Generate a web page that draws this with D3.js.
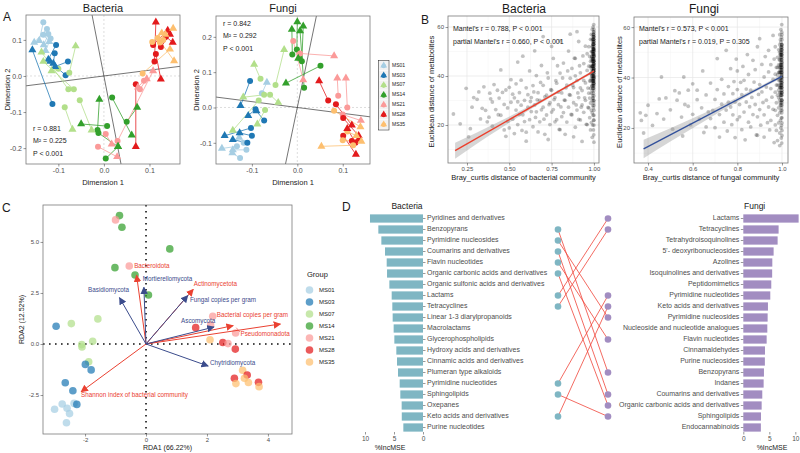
<!DOCTYPE html>
<html><head><meta charset="utf-8">
<script src="https://cdn.jsdelivr.net/npm/d3@7"></script>
<style>body{margin:0;background:#fff}svg{display:block}</style>
</head><body><svg id="chart" width="800" height="453"></svg>
<script>
// ---------------- DATA ----------------
const groups = ["MS01","MS03","MS07","MS14","MS21","MS28","MS35"];

// Procrustes: [group, circle x, circle y, triangle x, triangle y]
const procBacteria = [
["MS01",-0.133,0.149,-0.142,0.098],["MS01",-0.125,0.130,-0.153,0.093],["MS01",-0.122,0.116,-0.132,0.086],
["MS01",-0.133,0.114,-0.120,0.095],["MS01",-0.117,0.104,-0.128,0.070],
["MS03",-0.113,-0.078,-0.157,0.072],["MS03",-0.105,0.086,-0.122,0.046],["MS03",-0.108,0.063,-0.111,0.035],
["MS03",-0.079,0.040,-0.107,0.026],["MS03",-0.084,0.002,-0.118,0.040],
["MS07",-0.076,0.009,-0.062,0.083],["MS07",-0.078,-0.037,-0.137,0.066],["MS07",-0.066,-0.037,-0.133,0.040],
["MS07",-0.053,-0.067,-0.027,-0.150],["MS07",-0.086,-0.087,-0.069,-0.148],["MS07",-0.100,0.020,-0.115,0.014],
["MS14",0.018,-0.060,0.061,-0.164],["MS14",0.007,-0.139,-0.050,-0.133],["MS14",-0.014,-0.150,-0.010,-0.065],
["MS14",-0.012,-0.158,0.031,-0.196],["MS14",0.004,-0.229,0.031,-0.196],["MS14",0.050,-0.127,0.073,-0.087],
["MS21",-0.013,-0.196,0.029,-0.224],["MS21",0.004,-0.161,0.017,-0.189],["MS21",0.088,-0.013,0.075,-0.031],
["MS21",0.079,-0.037,0.094,-0.008],["MS21",0.030,-0.180,0.108,0.014],
["MS28",0.070,-0.023,0.070,-0.196],["MS28",0.111,0.040,0.114,0.149],["MS28",0.114,0.061,0.125,-0.009],
["MS28",0.108,0.086,0.140,0.126],["MS28",0.136,0.109,0.151,0.093],["MS28",0.125,0.080,0.145,0.115],
["MS35",0.106,0.094,0.127,0.119],["MS35",0.123,0.093,0.152,0.132],["MS35",0.085,0.007,0.145,0.074],
["MS35",0.118,0.105,0.154,0.042],["MS35",0.130,0.100,0.135,0.115]
];
const procFungi = [
["MS01",-0.126,-0.143,-0.143,-0.129],["MS01",-0.133,-0.110,-0.166,-0.116],["MS01",-0.118,-0.100,-0.128,-0.085],
["MS01",-0.112,-0.120,-0.142,-0.120],["MS01",-0.078,0.040,-0.067,0.071],
["MS03",-0.104,0.075,-0.125,0.005],["MS03",-0.092,-0.005,-0.108,-0.023],["MS03",-0.073,-0.037,-0.090,-0.010],
["MS03",-0.102,-0.058,-0.160,-0.080],["MS03",-0.100,-0.080,-0.127,-0.072],["MS03",-0.110,-0.100,-0.142,-0.091],
["MS07",-0.081,0.081,-0.095,0.122],["MS07",-0.048,0.064,-0.029,0.164],["MS07",-0.073,0.036,-0.119,0.029],
["MS07",-0.060,0.036,-0.042,0.014],["MS07",-0.071,-0.007,-0.088,-0.047],["MS07",-0.085,0.020,-0.142,-0.065],
["MS14",-0.001,0.164,0.000,0.242],["MS14",-0.011,0.150,-0.012,0.221],["MS14",0.010,0.131,0.013,0.230],
["MS14",0.015,0.056,0.006,0.217],["MS14",0.051,0.118,-0.025,0.069],["MS14",0.005,0.140,0.002,0.139],
["MS21",-0.009,0.188,0.013,0.078],["MS21",0.006,0.153,0.081,0.146],["MS21",0.090,0.033,0.088,0.083],
["MS21",0.110,0.000,0.107,0.083],["MS21",0.100,-0.020,0.140,-0.037],
["MS28",0.068,0.020,0.048,0.075],["MS28",0.085,0.009,0.120,-0.050],["MS28",0.101,-0.030,0.135,-0.080],
["MS28",0.101,-0.080,0.129,-0.133],["MS28",0.120,-0.095,0.135,-0.090],["MS28",0.128,-0.100,0.110,-0.060],
["MS35",0.123,-0.107,0.053,-0.110],["MS35",0.100,-0.093,0.141,-0.096],["MS35",0.081,-0.009,0.139,-0.055],
["MS35",0.110,-0.068,0.130,-0.080]
];
const procSlopesBacteria = [0.16, -6.5];
const procSlopesFungi = [-0.165, 6.16];
const procStatsBacteria = ["r = 0.881", "M\u00B2 = 0.225", "P < 0.001"];
const procStatsFungi = ["r = 0.842", "M\u00B2 = 0.292", "P < 0.001"];
const procTicksBacX = [-0.1, 0, 0.1], procTicksBacY = [0.1, 0, -0.1, -0.2];
const procTicksFunX = [-0.1, 0, 0.1], procTicksFunY = [0.2, 0.1, 0, -0.1];

// Mantel scatter points [bray_curtis, euclidean]
const mantelBacteria = [
[0.17,24.5],[0.21,20.5],[0.245,35],[0.26,15.2],[0.28,27.3],[0.29,31.2],[0.31,30.5],[0.33,22.5],[0.34,26.8],[0.35,35.6],[0.27,18.5],[0.32,33.5],
[0.36,26],[0.37,21.3],[0.38,23.2],[0.385,33],[0.39,30.7],[0.40,29.4],[0.40,19.5],[0.41,36.5],[0.42,26.3],[0.43,34.2],[0.435,24.2],[0.44,31],[0.45,24],[0.45,42.5],[0.46,33.3],[0.47,18],[0.47,28.4],[0.48,15.4],[0.48,34.3],[0.49,27],[0.49,21.5],[0.50,35.4],[0.50,18.8],[0.51,29.3],[0.51,38.5],[0.52,22.4],[0.52,32.6],[0.53,31.1],[0.53,16.5],[0.54,26.1],[0.54,36.8],[0.55,45.7],[0.55,20.2],[0.55,29.5],
[0.56,33.2],[0.56,24.3],[0.57,28.1],[0.57,38.3],[0.575,17.8],[0.58,24.2],[0.58,48.1],[0.59,30.1],[0.59,21.4],[0.60,17.1],[0.60,35.2],[0.60,13.4],[0.61,27.3],[0.61,32.4],[0.62,42.1],[0.62,22.2],[0.625,29.6],[0.63,31.2],[0.63,25.5],[0.64,36.1],[0.64,19.3],[0.645,33.5],[0.65,28.2],[0.65,50.3],[0.655,23.1],[0.66,25.4],[0.66,40.2],[0.665,30.3],[0.67,33.2],[0.67,17.2],[0.68,21.3],[0.68,30.1],[0.685,37.4],[0.69,44.3],[0.69,26.2],[0.70,27.3],[0.70,36.2],[0.70,56.1],[0.705,22.4],[0.71,16.2],[0.71,31.5],[0.72,32.2],[0.72,24.1],[0.725,41.3],[0.73,39.2],[0.73,14.1],[0.735,28.3],[0.74,29.1],[0.74,20.2],[0.745,34.4],[0.75,34.2],[0.75,52.1],[0.75,25.3],
[0.76,26.3],[0.76,47.2],[0.765,30.4],[0.77,31.2],[0.77,21.3],[0.775,38.1],[0.78,22.2],[0.78,37.1],[0.785,44.2],[0.79,28.3],[0.79,33.4],[0.795,18.2],[0.80,41.2],[0.80,18.1],[0.80,54.3],[0.805,27.4],[0.81,33.1],[0.81,23.4],[0.815,39.2],[0.82,25.1],[0.82,45.3],[0.825,30.2],[0.83,30.1],[0.83,16.2],[0.835,35.2],[0.84,36.3],[0.84,21.2],[0.845,42.1],[0.85,27.3],[0.85,50.2],[0.855,32.4],[0.86,39.1],[0.86,32.2],[0.86,57.1],[0.865,24.3],[0.87,24.2],[0.87,43.1],[0.875,36.2],[0.88,29.1],[0.88,35.3],[0.88,15.2],[0.885,47.3],[0.89,19.1],[0.89,47.2],[0.89,40.1],[0.895,28.2],[0.90,26.1],[0.90,38.2],[0.90,58.1],[0.905,33.1],[0.91,31.2],[0.91,54.1],[0.91,22.3],[0.915,44.2],[0.92,22.1],[0.92,41.3],[0.92,35.2],[0.925,27.3],[0.93,34.1],[0.93,28.2],[0.93,13.3],[0.935,48.2],[0.94,45.1],[0.94,25.2],[0.94,38.2],[0.945,31.1],[0.95,37.2],[0.95,30.1],[0.95,52.2],[0.955,20.3],[0.96,49.1],[0.96,20.2],[0.96,42.3],[0.965,35.1],[0.965,27.2],
[0.97,33],[0.97,27],[0.97,52],[0.97,44],[0.975,38],[0.975,23],[0.975,48],[0.975,31],[0.98,41],[0.98,35],[0.98,55],[0.98,18],[0.98,29],[0.98,46],[0.985,39],[0.985,43],[0.985,50],[0.985,26],[0.985,33],[0.985,57],[0.985,21],[0.99,36],[0.99,40],[0.99,44],[0.99,48],[0.99,52],[0.99,30],[0.99,25],[0.99,15],[0.99,55],[0.99,59],[0.99,34],[0.993,37],[0.993,42],[0.993,46],[0.993,50],[0.993,54],[0.993,28],[0.993,32],[0.993,20],[0.995,39],[0.995,43],[0.995,47],[0.995,51],[0.995,56],[0.995,35],[0.995,31],[0.995,24],[0.995,60],[0.997,36],[0.997,40],[0.997,44],[0.997,49],[0.997,53],[0.997,57],[0.997,33],[0.997,27],[0.997,18],[0.998,38],[0.998,42],[0.998,45],[0.998,48],[0.998,51],[0.998,55],[0.998,58],[0.998,30],[0.998,22],[0.999,37],[0.999,41],[0.999,43],[0.999,46],[0.999,50],[0.999,53],[0.999,56],[0.999,61],[0.999,34],[0.999,29],[0.999,16],[1.0,36],[1.0,39],[1.0,41],[1.0,44],[1.0,47],[1.0,49],[1.0,52],[1.0,54],[1.0,57],[1.0,59],[1.0,32],[1.0,26],[1.0,20],[1.0,13],[1.0,38],[1.0,43],[1.0,46],[1.0,50],[1.0,55],[1.0,42],[1.0,45],[1.0,48],[1.0,51],[1.0,40],[1.0,35],[0.996,45],[0.996,49],[0.996,53],[0.994,41],[0.994,38],[0.992,47],[0.992,44],
[0.996,36],[0.996,38],[0.996,40],[0.996,42],[0.996,47],[0.996,51],[0.996,55],[0.996,57],[0.998,37],[0.998,40],[0.998,43],[0.998,46],[0.998,49],[0.998,52],[0.998,54],[0.998,56],[1.0,37],[1.0,39.5],[1.0,42.5],[1.0,44.5],[1.0,46.5],[1.0,48.5],[1.0,50.5],[1.0,53],[1.0,56],[1.0,58],[1.0,30],[1.0,28],[1.0,24],[1.0,22],[0.994,44],[0.994,47],[0.994,50],[0.994,53],[0.994,35],[0.994,31],[0.992,39],[0.992,41],[0.992,49],[0.992,52],[0.99,38],[0.99,42],[0.99,46],[0.99,50],[0.988,40],[0.988,44],[0.988,36],[0.988,48],[0.985,41],[0.985,47],[0.98,38],[0.98,44],[0.997,38],[0.997,42],[0.997,46],[0.997,51],[0.997,55],[0.999,39],[0.999,45],[0.999,48],[0.999,51],[0.999,54]
];
const mantelFungi = [
[0.365,26],[0.37,23],[0.39,25],[0.40,29],[0.38,18],[0.42,21],[0.44,25.7],[0.45,31.5],[0.46,40.2],[0.48,31.9],[0.47,23.5],[0.50,27.2],[0.51,19.5],[0.52,34.8],[0.53,31],[0.54,33.9],[0.55,24.3],[0.56,40.2],[0.565,29.3],[0.58,35],[0.58,28.6],[0.59,21.2],[0.60,25.4],[0.60,37.5],[0.555,16.8],
[0.62,31.2],[0.62,35],[0.63,23.5],[0.64,28],[0.645,42.6],[0.65,18.2],[0.66,20.4],[0.66,33.1],[0.67,26.4],[0.68,23.7],[0.68,37.8],[0.69,27],[0.70,31.3],[0.70,20.1],[0.71,47.5],[0.71,35.2],[0.72,25.3],[0.72,16.4],[0.73,29.4],[0.73,39.3],[0.74,22.3],[0.74,33.5],[0.75,50.8],[0.75,27.1],[0.755,18.8],[0.76,36.4],[0.76,30.2],[0.77,28.3],[0.77,43.5],[0.775,21.3],[0.78,33.6],[0.78,25.2],[0.785,38.4],[0.79,16.2],[0.79,30.3],[0.795,47.3],[0.80,42.6],[0.80,23.3],[0.80,35.2],
[0.81,24.4],[0.81,29.3],[0.815,38.1],[0.82,33.2],[0.82,19.3],[0.825,44.4],[0.83,38.9],[0.83,26.3],[0.835,15.3],[0.84,30.3],[0.84,35.4],[0.845,49.1],[0.85,22.3],[0.85,41.2],[0.855,28.4],[0.86,35],[0.86,20.4],[0.865,32.1],[0.87,46.8],[0.87,25.3],[0.875,38.2],[0.88,29.3],[0.88,43.1],[0.885,17.2],[0.89,17.1],[0.89,24.4],[0.89,52.2],[0.895,33.3],[0.90,55.4],[0.90,37.2],[0.90,27.3],[0.905,21.1],[0.91,34.3],[0.91,45.2],[0.915,30.1],[0.92,40.2],[0.92,16.4],[0.92,25.2],[0.925,48.3],[0.93,31],[0.93,36.2],[0.935,22.1],[0.94,50.8],[0.94,42.2],[0.94,28.3],[0.945,19.2],[0.95,23],[0.95,35.6],[0.95,45.1],[0.955,32.2],[0.96,56.7],[0.96,39.3],[0.96,27.4],[0.965,14.2],[0.965,47.3],[0.97,27],[0.97,34.2],[0.97,41.3],[0.97,52.2],[0.97,21.2],
[0.975,30],[0.975,44],[0.975,19],[0.975,37],[0.98,33],[0.98,48],[0.98,25],[0.98,41],[0.98,15],[0.985,35],[0.985,39],[0.985,51],[0.985,28],[0.985,22],[0.985,45],[0.99,31],[0.99,36],[0.99,42],[0.99,47],[0.99,53],[0.99,57],[0.99,26],[0.99,18],[0.99,13],[0.993,34],[0.993,38],[0.993,44],[0.993,49],[0.993,29],[0.993,23],[0.993,55],[0.995,32],[0.995,37],[0.995,40],[0.995,46],[0.995,50],[0.995,54],[0.995,27],[0.995,20],[0.995,59],[0.997,33],[0.997,36],[0.997,41],[0.997,43],[0.997,48],[0.997,52],[0.997,30],[0.997,24],[0.997,16],[0.998,35],[0.998,39],[0.998,45],[0.998,47],[0.998,51],[0.998,56],[0.998,28],[0.998,21],[0.999,31],[0.999,34],[0.999,38],[0.999,42],[0.999,44],[0.999,49],[0.999,53],[0.999,58],[0.999,61],[0.999,26],[0.999,14],[1.0,30],[1.0,33],[1.0,36],[1.0,39],[1.0,41],[1.0,43],[1.0,46],[1.0,48],[1.0,50],[1.0,52],[1.0,55],[1.0,57],[1.0,27],[1.0,24],[1.0,19],[1.0,17],[1.0,37],[1.0,40],[1.0,45],[1.0,35],[0.996,42],[0.996,47],[0.994,39],[0.994,51],[0.992,36],[0.992,45],
[0.996,33],[0.996,37],[0.996,40],[0.996,44],[0.996,49],[0.996,52],[0.996,29],[0.998,34],[0.998,37],[0.998,41],[0.998,43],[0.998,49],[0.998,53],[0.998,31],[1.0,31],[1.0,34],[1.0,38],[1.0,42],[1.0,44],[1.0,47],[1.0,49],[1.0,51],[1.0,53],[1.0,29],[1.0,22],[0.994,36],[0.994,42],[0.994,45],[0.994,48],[0.994,33],[0.992,40],[0.992,43],[0.992,49],[0.992,30],[0.99,34],[0.99,39],[0.99,44],[0.99,50],[0.988,37],[0.988,42],[0.988,47],[0.985,32],[0.985,42],[0.98,37],[0.98,44],[0.999,36],[0.999,40],[0.999,46],[0.999,51],[0.997,38],[0.997,45],[0.997,50]
];
const mantelFitBacteria = {intercept: 2.4, slope: 39.6};
const mantelFitFungi = {intercept: -6.0, slope: 46.5};
// confidence band [x, lower, upper]
const mantelBandBacteria = [[0.18,6.2,12.8],[0.3,12.0,16.6],[0.45,18.7,21.7],[0.6,25.3,27.1],[0.75,31.5,32.7],[0.9,37.5,38.5],[1.0,41.4,42.6]];
const mantelBandFungi = [[0.38,8.0,15.3],[0.5,14.6,19.9],[0.65,22.6,25.8],[0.8,30.3,32.1],[0.9,35.2,36.5],[1.0,39.8,41.2]];
const mantelStatsBacteria = ["Mantel's r = 0.788, P < 0.001", "partial Mantel's r = 0.660, P < 0.001"];
const mantelStatsFungi = ["Mantel's r = 0.573, P < 0.001", "partial Mantel's r = 0.019, P = 0.305"];
const mantelTicksBacX = [0.25,0.5,0.75,1.0], mantelTicksFunX = [0.4,0.6,0.8,1.0], mantelTicksY = [20,40,60];

// RDA
const rdaPoints = [
["MS14",-0.87,6.29],["MS21",-1.0,6.08],["MS14",-0.79,5.72],["MS14",0.78,4.66],["MS14",-1.02,3.74],["MS21",-0.55,3.82],["MS14",-0.36,3.38],["MS14",0.08,2.40],
["MS07",-1.58,1.23],["MS07",-2.45,1.0],["MS03",-2.95,0.87],["MS07",-1.75,0.13],["MS07",-2.11,-0.03],["MS07",-2.1,-0.15],["MS07",-1.88,-0.87],
["MS03",-1.99,-1.0],["MS03",-1.8,-1.27],["MS03",-2.65,-1.9],["MS03",-2.4,-2.29],["MS01",-2.36,-2.91],["MS03",-2.27,-2.96],["MS01",-2.75,-2.94],
["MS01",-3.0,-3.2],["MS01",-2.59,-3.15],["MS01",-2.51,-3.41],["MS01",-2.61,-3.86],
["MS21",2.19,1.36],["MS28",1.63,0.80],["MS21",2.12,0.93],["MS21",2.94,0.54],["MS35",2.1,0.21],["MS28",2.52,0.07],["MS21",2.69,0.02],
["MS28",2.93,-0.25],["MS35",3.17,-1.29],["MS28",3.32,-1.52],["MS28",2.9,-1.68],["MS35",3.23,-1.68],["MS35",2.95,-1.94],["MS35",3.36,-1.89],
["MS28",3.69,-1.88],["MS35",3.71,-2.09]
];
const rdaVarNames = ["Bacteroidota","Actinomycetota","Bacterial copies per gram","Pseudomonadota","Shannon index of bacterial community",
  "Basidiomycota","Mortierellomycota","Fungal copies per gram","Ascomycota","Chytridiomycota"];
const rdaVarKind = ["bacteria","bacteria","bacteria","bacteria","bacteria","fungi","fungi","fungi","fungi","fungi"];
const rdaVarX = [-0.31,1.55,2.86,4.41,-2.13,-0.87,-0.07,1.37,2.23,2.04];
const rdaVarY = [3.37,2.68,0.90,0.98,-2.34,2.27,2.78,2.37,0.83,-1.08];
const rdaLabelX = [-0.39,1.57,2.32,3.10,-2.13,-1.90,-0.11,1.44,1.15,2.10];
const rdaLabelY = [3.79,2.94,1.42,0.49,-2.50,2.65,3.17,2.12,1.13,-0.93];
const rdaTicksX = [-2,0,2,4], rdaTicksY = [5,2.5,0,-2.5];

// Random forest %IncMSE
const bacFeatures = ["Pyridines and derivatives","Benzopyrans","Pyrimidine nucleosides","Coumarins and derivatives","Flavin nucleotides",
 "Organic carbonic acids and derivatives","Organic sulfonic acids and derivatives","Lactams","Tetracyclines","Linear 1-3 diarylpropanoids",
 "Macrolactams","Glycerophospholipids","Hydroxy acids and derivatives","Cinnamic acids and derivatives","Plumeran type alkaloids",
 "Pyrimidine nucleotides","Sphingolipids","Oxepanes","Keto acids and derivatives","Purine nucleotides"];
const bacIncMSE = [9.14,7.70,7.18,6.55,6.26,6.20,5.80,5.40,5.29,5.23,5.06,4.94,4.60,4.48,4.31,4.02,3.91,3.68,3.66,3.39];
const fungiFeatures = ["Lactams","Tetracyclines","Tetrahydroisoquinolines","5'- deoxyribonucleosides","Azolines",
 "Isoquinolines and derivatives","Peptidomimetics","Pyrimidine nucleotides","Keto acids and derivatives","Pyrimidine nucleosides",
 "Nucleoside and nucleotide analogues","Flavin nucleotides","Cinnamaldehydes","Purine nucleosides","Benzopyrans",
 "Indanes","Coumarins and derivatives","Organic carbonic acids and derivatives","Sphingolipids","Endocannabinoids"];
const fungiIncMSE = [10.64,6.79,6.60,5.83,5.58,5.55,5.38,5.19,4.74,4.68,4.62,4.49,4.17,4.15,3.97,3.91,3.65,3.53,3.40,3.38];
const incTicksBac = [10,5,0], incTicksFun = [0,5,10];

// ---------------- STYLE ----------------
const FONT = '"Liberation Sans", Arial, Helvetica, sans-serif';
const groupColor = d3.scaleOrdinal().domain(groups)
  .range(["#a6cee3","#1f78b4","#b2df8a","#33a02c","#fb9a99","#e31a1c","#fdbf6f"]);
const RED = "#ea4131", NAVY = "#3b4c8c", TEAL = "#7fb6c3", PURPLE = "#a28dc1";

const svg = d3.select("#chart").attr("font-family", FONT);
svg.append("rect").attr("width",800).attr("height",453).attr("fill","#fff");
const defs = svg.append("defs");

function text(g, x, y, s, o = {}) {
  const t = g.append("text").attr("x", x).attr("y", y).text(s)
    .attr("font-size", o.size || 7).attr("fill", o.fill || "#1a1a1a")
    .attr("text-anchor", o.anchor || "start").attr("dominant-baseline", o.base || "middle");
  if (o.weight) t.attr("font-weight", o.weight);
  if (o.rotate) t.attr("transform", `rotate(-90,${x},${y})`);
  return t;
}
function styleAxis(g, fs) {
  g.attr("font-family", FONT).attr("font-size", fs);
  g.select(".domain").remove();
  g.selectAll(".tick line").attr("stroke", "#333").attr("stroke-width", 0.5);
  g.selectAll(".tick text").attr("fill", "#4d4d4d");
}
let clipId = 0;
function clip(x0, y0, x1, y1) {
  const id = "clip" + (clipId++);
  defs.append("clipPath").attr("id", id).append("rect").attr("x", x0).attr("y", y0).attr("width", x1 - x0).attr("height", y1 - y0);
  return `url(#${id})`;
}
function frame(g, x0, y0, x1, y1) {
  g.append("rect").attr("x", x0).attr("y", y0).attr("width", x1 - x0).attr("height", y1 - y0)
    .attr("fill", "none").attr("stroke", "#7a7a7a").attr("stroke-width", 0.8);
}

// ---------------- PANEL A ----------------
function drawProcrustes(L, rows, slopes, stats, xt, yt) {
  const x = d3.scaleLinear().domain(L.xDom).range([L.x0, L.x1]);
  const y = d3.scaleLinear().domain(L.yDom).range([L.y1, L.y0]);
  const g = svg.append("g");
  const inner = g.append("g").attr("clip-path", clip(L.x0, L.y0, L.x1, L.y1));
  inner.append("line").attr("x1", x(0)).attr("x2", x(0)).attr("y1", L.y0).attr("y2", L.y1)
    .attr("stroke", "#c8c8c8").attr("stroke-dasharray", "2,2").attr("stroke-width", 0.6);
  inner.append("line").attr("y1", y(0)).attr("y2", y(0)).attr("x1", L.x0).attr("x2", L.x1)
    .attr("stroke", "#c8c8c8").attr("stroke-dasharray", "2,2").attr("stroke-width", 0.6);
  slopes.forEach(s => {
    const a = L.xDom[0] * 1.5, b = L.xDom[1] * 1.5;
    inner.append("line").attr("x1", x(a)).attr("y1", y(s * a)).attr("x2", x(b)).attr("y2", y(s * b))
      .attr("stroke", "#3a3a3a").attr("stroke-width", 0.7);
  });
  inner.selectAll(".seg").data(rows).join("line")
    .attr("x1", d => x(d[1])).attr("y1", d => y(d[2])).attr("x2", d => x(d[3])).attr("y2", d => y(d[4]))
    .attr("stroke", d => groupColor(d[0])).attr("stroke-width", 0.9).attr("opacity", 0.85);
  inner.selectAll(".pc").data(rows).join("circle")
    .attr("cx", d => x(d[1])).attr("cy", d => y(d[2])).attr("r", 3).attr("fill", d => groupColor(d[0]));
  const tri = d3.symbol().type(d3.symbolTriangle).size(28);
  inner.selectAll(".pt").data(rows).join("path").attr("d", tri)
    .attr("transform", d => `translate(${x(d[3])},${y(d[4])})`).attr("fill", d => groupColor(d[0]));
  frame(g, L.x0, L.y0, L.x1, L.y1);
  const f = d => d.toFixed(1);
  styleAxis(g.append("g").attr("transform", `translate(0,${L.y1})`)
    .call(d3.axisBottom(x).tickValues(xt).tickSize(2.5).tickPadding(1.5).tickFormat(f)), 7);
  styleAxis(g.append("g").attr("transform", `translate(${L.x0},0)`)
    .call(d3.axisLeft(y).tickValues(yt).tickSize(2.5).tickPadding(1.5).tickFormat(f)), 7);
  text(g, L.titleX, 9, L.title, {size: 11, anchor: "middle"});
  text(g, (L.x0 + L.x1) / 2, 183, "Dimension 1", {size: 7.5, anchor: "middle"});
  text(g, L.ylabX, (L.y0 + L.y1) / 2, "Dimension 2", {size: 7.5, anchor: "middle", rotate: true});
  stats.forEach((s, i) => text(g, L.statX, L.statY + i * 12.5, s, {size: 7}));
}
drawProcrustes({x0:26,x1:180,y0:15,y1:164,xDom:[-0.171,0.167],yDom:[-0.244,0.169],title:"Bacteria",titleX:103,ylabX:8,statX:33,statY:129},
  procBacteria, procSlopesBacteria, procStatsBacteria, procTicksBacX, procTicksBacY);
drawProcrustes({x0:216,x1:370,y0:16,y1:164,xDom:[-0.179,0.160],yDom:[-0.160,0.259],title:"Fungi",titleX:283,ylabX:197,statX:223,statY:24},
  procFungi, procSlopesFungi, procStatsFungi, procTicksFunX, procTicksFunY);
text(svg, 3, 18, "A", {size: 12});

// legend A
(function(){
  const g = svg.append("g");
  const tri = d3.symbol().type(d3.symbolTriangle).size(20);
  groups.forEach((k, i) => {
    const cy = 65.5 + i * 9.8;
    g.append("rect").attr("x", 379).attr("y", cy - 4.6).attr("width", 9.5).attr("height", 9.2).attr("fill", "#f2f2f2");
    g.append("circle").attr("cx", 383.7).attr("cy", cy + 0.5).attr("r", 2.3).attr("fill", groupColor(k));
    g.append("path").attr("d", tri).attr("transform", `translate(383.7,${cy})`).attr("fill", groupColor(k));
    text(g, 392, cy, k, {size: 5});
  });
  g.append("rect").attr("x", 378.5).attr("y", 60.5).attr("width", 10.5).attr("height", 69.5)
    .attr("fill", "none").attr("stroke", "#333").attr("stroke-width", 0.6);
})();

// ---------------- PANEL B ----------------
function drawMantel(L, pts, fit, band, stats, xt, xfmt) {
  const x = d3.scaleLinear().domain(L.xDom).range([L.x0, L.x1]);
  const y = d3.scaleLinear().domain(L.yDom).range([L.y1, L.y0]);
  const g = svg.append("g");
  const inner = g.append("g").attr("clip-path", clip(L.x0, L.y0, L.x1, L.y1));
  const minorX = xt.slice(0, -1).map((v, i) => (v + xt[i + 1]) / 2).concat([xt[0] - (xt[1] - xt[0]) / 2]);
  [10, 30, 50].forEach(v => inner.append("line").attr("x1", L.x0).attr("x2", L.x1).attr("y1", y(v)).attr("y2", y(v)).attr("stroke", "#f3f3f3").attr("stroke-width", 0.5));
  minorX.forEach(v => inner.append("line").attr("y1", L.y0).attr("y2", L.y1).attr("x1", x(v)).attr("x2", x(v)).attr("stroke", "#f3f3f3").attr("stroke-width", 0.5));
  mantelTicksY.forEach(v => inner.append("line").attr("x1", L.x0).attr("x2", L.x1).attr("y1", y(v)).attr("y2", y(v)).attr("stroke", "#e6e6e6").attr("stroke-width", 0.7));
  xt.forEach(v => inner.append("line").attr("y1", L.y0).attr("y2", L.y1).attr("x1", x(v)).attr("x2", x(v)).attr("stroke", "#e6e6e6").attr("stroke-width", 0.7));
  inner.selectAll(".pt").data(pts).join("circle").attr("cx", d => x(d[0])).attr("cy", d => y(d[1]))
    .attr("r", 1.9).attr("fill", "#000").attr("opacity", 0.24);
  const area = d3.area().curve(d3.curveMonotoneX).x(d => x(d[0])).y0(d => y(d[1])).y1(d => y(d[2]));
  inner.append("path").datum(band).attr("d", area).attr("fill", "#999").attr("opacity", 0.4);
  const xa = band[0][0], xb = band[band.length - 1][0];
  inner.append("line").attr("x1", x(xa)).attr("y1", y(fit.intercept + fit.slope * xa))
    .attr("x2", x(xb)).attr("y2", y(fit.intercept + fit.slope * xb))
    .attr("stroke", L.lineColor).attr("stroke-width", 1.4);
  frame(g, L.x0, L.y0, L.x1, L.y1);
  styleAxis(g.append("g").attr("transform", `translate(0,${L.y1})`)
    .call(d3.axisBottom(x).tickValues(xt).tickSize(2.5).tickPadding(1.5).tickFormat(xfmt)), 6);
  styleAxis(g.append("g").attr("transform", `translate(${L.x0},0)`)
    .call(d3.axisLeft(y).tickValues(mantelTicksY).tickSize(2.5).tickPadding(1.5)), 6);
  text(g, L.titleX, 10, L.title, {size: 12, anchor: "middle"});
  text(g, (L.x0 + L.x1) / 2, 178, L.xlab, {size: 7.5, anchor: "middle"});
  text(g, L.ylabX, (L.y0 + L.y1) / 2 + 2, "Euclidean distance of metabolites", {size: 7.5, anchor: "middle", rotate: true});
  stats.forEach((s, i) => text(g, L.x0 + 5, 29.5 + i * 12.5, s, {size: 7}));
}
drawMantel({x0:448,x1:599,y0:16,y1:163,xDom:[0.138,1.03],yDom:[4.5,64.5],title:"Bacteria",titleX:524,ylabX:432,
  xlab:"Bray_curtis distance of bacterial community",lineColor:"#ec3f2c"},
  mantelBacteria, mantelFitBacteria, mantelBandBacteria, mantelStatsBacteria, mantelTicksBacX, d => d.toFixed(2));
drawMantel({x0:634,x1:788,y0:17,y1:163,xDom:[0.337,1.027],yDom:[6.1,64],title:"Fungi",titleX:704,ylabX:620,
  xlab:"Bray_curtis distance of fungal community",lineColor:"#33519b"},
  mantelFungi, mantelFitFungi, mantelBandFungi, mantelStatsFungi, mantelTicksFunX, d => d.toFixed(1));
text(svg, 421, 21, "B", {size: 12});

// ---------------- PANEL C ----------------
(function(){
  const L = {x0:43,x1:292,y0:205,y1:434};
  const x = d3.scaleLinear().domain([-3.38,4.79]).range([L.x0, L.x1]);
  const y = d3.scaleLinear().domain([-4.41,6.81]).range([L.y1, L.y0]);
  const g = svg.append("g");
  const inner = g.append("g").attr("clip-path", clip(L.x0, L.y0, L.x1, L.y1));
  inner.append("line").attr("x1", x(0)).attr("x2", x(0)).attr("y1", L.y0).attr("y2", L.y1)
    .attr("stroke", "#111").attr("stroke-width", 1.6).attr("stroke-dasharray", "1.6,4.4");
  inner.append("line").attr("y1", y(0)).attr("y2", y(0)).attr("x1", L.x0).attr("x2", L.x1)
    .attr("stroke", "#111").attr("stroke-width", 1.6).attr("stroke-dasharray", "1.6,4.4");
  inner.selectAll(".p").data(rdaPoints).join("circle").attr("cx", d => x(d[1])).attr("cy", d => y(d[2]))
    .attr("r", 3.8).attr("fill", d => groupColor(d[0])).attr("opacity", 0.72);
  [["bacteria", RED], ["fungi", NAVY]].forEach(([k, c]) => {
    defs.append("marker").attr("id", "arr-" + k).attr("viewBox", "0 0 10 10").attr("refX", 9).attr("refY", 5)
      .attr("markerUnits", "userSpaceOnUse").attr("markerWidth", 7.5).attr("markerHeight", 7.5).attr("orient", "auto")
      .append("path").attr("d", "M0,0 L10,5 L0,10 z").attr("fill", c);
  });
  const idx = d3.range(rdaVarNames.length);
  const col = i => rdaVarKind[i] === "bacteria" ? RED : NAVY;
  inner.append("line").attr("x1", x(rdaVarX[2] + 0.1)).attr("y1", y(rdaVarY[2] - 0.1))
    .attr("x2", x(rdaLabelX[3] - 0.02)).attr("y2", y(rdaLabelY[3] + 0.1)).attr("stroke", RED).attr("stroke-width", 0.6);
  inner.selectAll(".a").data(idx).join("line")
    .attr("x1", x(0)).attr("y1", y(0)).attr("x2", i => x(rdaVarX[i])).attr("y2", i => y(rdaVarY[i]))
    .attr("stroke", col).attr("stroke-width", 1)
    .attr("marker-end", i => `url(#arr-${rdaVarKind[i]})`);
  idx.forEach(i => text(inner, x(rdaLabelX[i]), y(rdaLabelY[i]), rdaVarNames[i], {size: 6.3, fill: col(i)}));
  frame(g, L.x0, L.y0, L.x1, L.y1);
  styleAxis(g.append("g").attr("transform", `translate(0,${L.y1})`)
    .call(d3.axisBottom(x).tickValues(rdaTicksX).tickSize(2.5).tickPadding(1.5).tickFormat(d => String(d))), 6);
  styleAxis(g.append("g").attr("transform", `translate(${L.x0},0)`)
    .call(d3.axisLeft(y).tickValues(rdaTicksY).tickSize(2.5).tickPadding(1.5).tickFormat(d => d.toFixed(1))), 6);
  text(g, (L.x0 + L.x1) / 2, 448, "RDA1 (66.22%)", {size: 7, anchor: "middle"});
  text(g, 22, (L.y0 + L.y1) / 2, "RDA2 (12.52%)", {size: 7, anchor: "middle", rotate: true});
  text(g, 307, 275, "Group", {size: 7.5});
  groups.forEach((k, i) => {
    g.append("circle").attr("cx", 309.5).attr("cy", 290 + i * 12).attr("r", 3.8).attr("fill", groupColor(k)).attr("opacity", 0.72);
    text(g, 319, 290 + i * 12, k, {size: 6});
  });
  text(svg, 2, 209, "C", {size: 12});
})();

// ---------------- PANEL D ----------------
(function(){
  const g = svg.append("g");
  const yB = d3.scaleBand().domain(bacFeatures).range([213, 433]).paddingInner(0.25).paddingOuter(0.125);
  const yF = d3.scaleBand().domain(fungiFeatures).range([213, 433]).paddingInner(0.25).paddingOuter(0.125);
  const xB = d3.scaleLinear().domain([0, 10]).range([423, 365]);
  const xF = d3.scaleLinear().domain([0, 10]).range([743.3, 795.3]);
  const bw = yB.bandwidth();
  g.selectAll(".bb").data(bacFeatures).join("rect")
    .attr("x", (d, i) => xB(bacIncMSE[i])).attr("width", (d, i) => xB(0) - xB(bacIncMSE[i]))
    .attr("y", d => yB(d)).attr("height", bw).attr("fill", TEAL);
  g.selectAll(".fb").data(fungiFeatures).join("rect")
    .attr("x", xF(0)).attr("width", (d, i) => xF(fungiIncMSE[i]) - xF(0))
    .attr("y", d => yF(d)).attr("height", bw).attr("fill", PURPLE);
  bacFeatures.forEach(d => {
    const cy = yB(d) + bw / 2;
    g.append("line").attr("x1", xB(0)).attr("x2", xB(0) + 2.5).attr("y1", cy).attr("y2", cy).attr("stroke", "#333").attr("stroke-width", 0.5);
    text(g, xB(0) + 4, cy, d, {size: 7, fill: "#4d4d4d"});
  });
  fungiFeatures.forEach(d => {
    const cy = yF(d) + bw / 2;
    g.append("line").attr("x1", xF(0) - 2.5).attr("x2", xF(0)).attr("y1", cy).attr("y2", cy).attr("stroke", "#333").attr("stroke-width", 0.5);
    text(g, xF(0) - 4, cy, d, {size: 7, fill: "#4d4d4d", anchor: "end"});
  });
  const shared = bacFeatures.filter(d => fungiFeatures.includes(d));
  const LX = 558, RX = 608;
  g.selectAll(".cl").data(shared).join("line")
    .attr("x1", LX).attr("y1", d => yB(d) + bw / 2).attr("x2", RX).attr("y2", d => yF(d) + bw / 2)
    .attr("stroke", "#f0453a").attr("stroke-width", 0.8);
  g.selectAll(".cdl").data(shared).join("circle").attr("cx", LX).attr("cy", d => yB(d) + bw / 2).attr("r", 3.3).attr("fill", TEAL);
  g.selectAll(".cdr").data(shared).join("circle").attr("cx", RX).attr("cy", d => yF(d) + bw / 2).attr("r", 3.3).attr("fill", PURPLE);
  styleAxis(g.append("g").attr("transform", "translate(0,432)")
    .call(d3.axisBottom(xB).tickValues(incTicksBac).tickSize(2.5).tickPadding(1.5).tickFormat(d => String(d))), 6.5);
  styleAxis(g.append("g").attr("transform", "translate(0,432)")
    .call(d3.axisBottom(xF).tickValues(incTicksFun).tickSize(2.5).tickPadding(1.5).tickFormat(d => String(d))), 6.5);
  text(g, 390, 448, "%IncMSE", {size: 7, anchor: "middle"});
  text(g, 772, 448, "%IncMSE", {size: 7, anchor: "middle"});
  text(g, 407, 207, "Bacteria", {size: 8.5, anchor: "middle"});
  text(g, 744, 207, "Fungi", {size: 8.5});
  text(svg, 342, 208, "D", {size: 12});
})();
</script></body></html>
